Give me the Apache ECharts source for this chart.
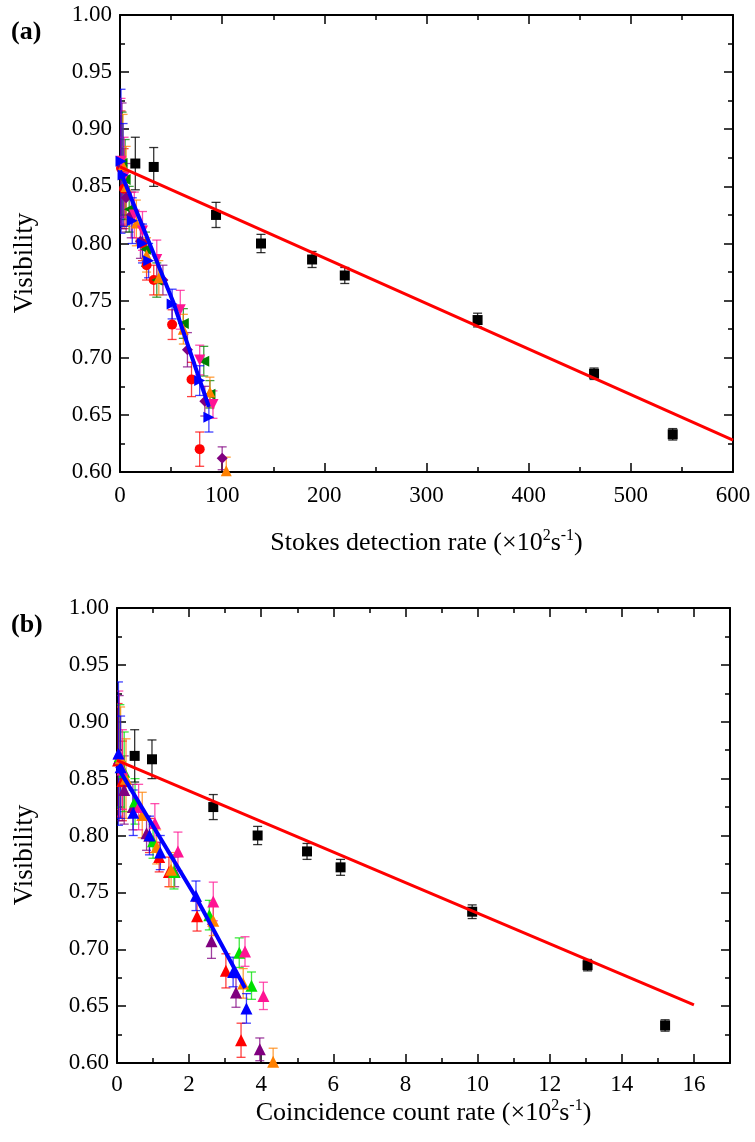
<!DOCTYPE html>
<html>
<head>
<meta charset="utf-8">
<script src="https://cdn.jsdelivr.net/npm/echarts@6/dist/echarts.min.js"></script>
<style>html,body{margin:0;padding:0;background:#fff}#c{width:755px;height:1142px}</style>
</head>
<body>
<div id="c"></div>
<script>
// ---------- DATA ----------
// Black squares (shared visibility), x in panel (a) = Stokes rate, panel (b) = coincidence rate
const blackVis    = [0.870, 0.867, 0.825, 0.800, 0.786, 0.772, 0.733, 0.686, 0.633];
const blackErr    = [0.023, 0.017, 0.011, 0.008, 0.007, 0.007, 0.006, 0.005, 0.005];
const blackStokes = [15, 33, 94, 138, 188, 220, 350, 464, 541];
const blackCoinc  = [0.49, 0.97, 2.67, 3.90, 5.27, 6.20, 9.85, 13.05, 15.20];

const redVis    = [0.866, 0.848, 0.800, 0.781, 0.768, 0.729, 0.681, 0.620];
const redErr    = [0.050, 0.035, 0.015, 0.013, 0.013, 0.013, 0.015, 0.015];
const redStokes = [1, 4, 22, 26, 33, 51, 70, 78];
const redCoinc  = [0.03, 0.15, 0.90, 1.17, 1.44, 2.22, 3.02, 3.44];

const purpleVis    = [0.868, 0.840, 0.825, 0.802, 0.768, 0.707, 0.662, 0.612];
const purpleErr    = [0.055, 0.030, 0.020, 0.015, 0.013, 0.015, 0.013, 0.010];
const purpleStokes = [2, 6, 11, 20, 42, 66, 83, 100];
const purpleCoinc  = [0.06, 0.20, 0.44, 0.82, 1.60, 2.62, 3.30, 3.96];

const blueVis    = [0.872, 0.860, 0.820, 0.800, 0.785, 0.747, 0.680, 0.648];
const blueErr    = [0.063, 0.045, 0.020, 0.017, 0.015, 0.013, 0.013, 0.013];
const blueStokes = [1, 3, 12, 22, 28, 51, 78, 87];
const blueCoinc  = [0.04, 0.10, 0.45, 0.90, 1.20, 2.19, 3.22, 3.59];

const greenVis    = [0.870, 0.856, 0.830, 0.795, 0.768, 0.730, 0.697, 0.668];
const greenErr    = [0.045, 0.035, 0.020, 0.015, 0.015, 0.013, 0.013, 0.012];
const greenStokes = [2, 5, 9, 25, 36, 62, 82, 88];
const greenCoinc  = [0.08, 0.20, 0.50, 1.00, 1.58, 2.56, 3.39, 3.73];

const pinkVis    = [0.872, 0.858, 0.825, 0.811, 0.786, 0.742, 0.698, 0.659];
const pinkErr    = [0.055, 0.035, 0.020, 0.017, 0.017, 0.017, 0.013, 0.012];
const pinkStokes = [1, 4, 14, 22, 36, 59, 78, 91];
const pinkCoinc  = [0.05, 0.15, 0.60, 1.05, 1.69, 2.67, 3.55, 4.06];

const orangeVis    = [0.868, 0.850, 0.818, 0.790, 0.770, 0.725, 0.670, 0.601];
const orangeErr    = [0.045, 0.035, 0.020, 0.015, 0.015, 0.013, 0.013, 0.012];
const orangeStokes = [3, 6, 16, 26, 38, 62, 88, 104];
const orangeCoinc  = [0.10, 0.25, 0.70, 1.10, 1.50, 2.67, 3.50, 4.33];

// Fit lines
const redFitStokesX  = [0, 600];
const redFitStokesY  = [0.867, 0.628];
const blueFitStokesX = [0, 52, 87];
const blueFitStokesY = [0.864, 0.749, 0.657];
const redFitCoincX   = [0, 16];
const redFitCoincY   = [0.866, 0.651];
const blueFitCoincX  = [0, 2.2, 3.55];
const blueFitCoincY  = [0.861, 0.745, 0.666];

// Axis texts
const yTitle = 'Visibility';
const panelLabels = ['(a)', '(b)'];
const xTitleA = ['Stokes detection rate (\u00d710', '2', 's', '-1', ')'];
const xTitleB = ['Coincidence count rate (\u00d710', '2', 's', '-1', ')'];

// ---------- CHART ----------
const FONT = 'Liberation Serif';
const zip = (xs, ys, es) => xs.map((x, i) => es ? [x, ys[i], es[i]] : [x, ys[i]]);

const grids = [
  {left: 120, top: 15, width: 613, height: 457},
  {left: 117, top: 608, width: 613, height: 455}
];

const xAxes = [], yAxes = [];
function axisLineStyle(){ return {show: true, onZero: false, lineStyle: {color: '#000', width: 2}}; }
function xTitleRich(parts){
  return '{n|' + parts[0] + '}{s|' + parts[1] + '}{n|' + parts[2] + '}{s|' + parts[3] + '}{n|' + parts[4] + '}';
}
const richStyle = {
  n: {fontFamily: FONT, fontSize: 26, color: '#000', lineHeight: 30},
  s: {fontFamily: FONT, fontSize: 16, color: '#000', lineHeight: 16, verticalAlign: 'top'}
};

function addX(grid, pos, min, max, interval, tickLen, labels, name, gap, showLine, minor, lm){
  xAxes.push({
    type: 'value', gridIndex: grid, position: pos, min: min, max: max, interval: interval,
    axisLine: showLine ? axisLineStyle() : {show: false},
    axisTick: {show: true, inside: true, length: tickLen, lineStyle: {color: '#000', width: 1.5}},
    minorTick: minor ? {show: true, splitNumber: 2, length: 5, lineStyle: {color: '#000', width: 1.5}} : {show: false},
    splitLine: {show: false},
    axisLabel: labels ? {show: true, fontFamily: FONT, fontSize: 23, color: '#000', margin: lm, showMaxLabel: max % interval === 0} : {show: false},
    name: name || '', nameLocation: 'middle', nameGap: gap || 0,
    nameTextStyle: {rich: richStyle}
  });
  return xAxes.length - 1;
}
function addY(grid, pos, labels){
  yAxes.push({
    type: 'value', gridIndex: grid, position: pos, min: 0.6, max: 1.0, interval: 0.05,
    axisLine: axisLineStyle(),
    axisTick: {show: true, inside: true, length: 9, lineStyle: {color: '#000', width: 1.5}},
    minorTick: {show: true, splitNumber: 2, length: 5, lineStyle: {color: '#000', width: 1.5}},
    splitLine: {show: false},
    axisLabel: labels ? {show: true, fontFamily: FONT, fontSize: 23, color: '#000', margin: 8,
      formatter: v => v.toFixed(2)} : {show: false}
  });
  return yAxes.length - 1;
}

// Panel (a)
const xa = addX(0, 'bottom', 0, 600, 100, 9, true, xTitleRich(xTitleA), 56, true, true, 12);
addX(0, 'top', 0, 600, 100, 9, false, '', 0, true, true, 0);
const ya = addY(0, 'left', true);
addY(0, 'right', false);
// Panel (b)
const xb = addX(1, 'bottom', 0, 17, 2, 9, true, xTitleRich(xTitleB), 35, true, false, 10);
addX(1, 'bottom', 0, 17, 1, 5, false, '', 0, false, false, 0);
addX(1, 'top', 0, 17, 2, 9, false, '', 0, true, false, 0);
addX(1, 'top', 0, 17, 1, 5, false, '', 0, false, false, 0);
const yb = addY(1, 'left', true);
addY(1, 'right', false);

function errSeries(xi, yi, data, color, op){
  return {
    type: 'custom', xAxisIndex: xi, yAxisIndex: yi, clip: true, z: 2,
    encode: {x: 0, y: 1},
    data: data,
    renderItem: function(params, api){
      const x = api.value(0), y = api.value(1), e = api.value(2);
      const t = api.coord([x, y + e]), b = api.coord([x, y - e]);
      const w = 4.5;
      const st = {stroke: color, lineWidth: 1.3, opacity: op};
      return {type: 'group', children: [
        {type: 'line', shape: {x1: t[0], y1: t[1], x2: b[0], y2: b[1]}, style: st},
        {type: 'line', shape: {x1: t[0] - w, y1: t[1], x2: t[0] + w, y2: t[1]}, style: st},
        {type: 'line', shape: {x1: b[0] - w, y1: b[1], x2: b[0] + w, y2: b[1]}, style: st}
      ]};
    }
  };
}
function scat(xi, yi, data, color, symbol, size, rot){
  return {type: 'scatter', xAxisIndex: xi, yAxisIndex: yi, data: data, clip: true, z: 3,
    symbol: symbol, symbolSize: size, symbolRotate: rot || 0,
    itemStyle: {color: color, opacity: 1}, silent: true};
}
function line(xi, yi, data, color, width){
  return {type: 'line', xAxisIndex: xi, yAxisIndex: yi, data: data, symbol: 'none', z: 4,
    lineStyle: {color: color, width: width}, silent: true, clip: true};
}

const colored = [
  {vis: redVis, err: redErr, a: redStokes, b: redCoinc, ca: '#ff0000', cb: '#ff0000', sa: 'circle', ra: 0},
  {vis: purpleVis, err: purpleErr, a: purpleStokes, b: purpleCoinc, ca: '#800080', cb: '#800080', sa: 'diamond', ra: 0},
  {vis: greenVis, err: greenErr, a: greenStokes, b: greenCoinc, ca: '#008000', cb: '#00e000', sa: 'triangle', ra: 90},
  {vis: orangeVis, err: orangeErr, a: orangeStokes, b: orangeCoinc, ca: '#ff8000', cb: '#ff8000', sa: 'triangle', ra: 0},
  {vis: pinkVis, err: pinkErr, a: pinkStokes, b: pinkCoinc, ca: '#ff1493', cb: '#ff1493', sa: 'triangle', ra: 180},
  {vis: blueVis, err: blueErr, a: blueStokes, b: blueCoinc, ca: '#0000ff', cb: '#0000ff', sa: 'triangle', ra: -90}
];

const series = [];
// Panel (a)
colored.forEach(c => series.push(errSeries(xa, ya, zip(c.a, c.vis, c.err), c.ca, 0.75)));
colored.forEach(c => series.push(scat(xa, ya, zip(c.a, c.vis), c.ca, c.sa, c.sa === 'circle' ? 10 : 11, c.ra)));
series.push(errSeries(xa, ya, zip(blackStokes, blackVis, blackErr), '#000', 0.8));
series.push(line(xa, ya, zip(redFitStokesX, redFitStokesY), '#ff0000', 3));
series.push(scat(xa, ya, zip(blackStokes, blackVis), '#000', 'rect', 10, 0));
series.push(line(xa, ya, zip(blueFitStokesX, blueFitStokesY), '#0000ff', 4));
// Panel (b)
colored.forEach(c => series.push(errSeries(xb, yb, zip(c.b, c.vis, c.err), c.cb, 0.75)));
colored.forEach(c => series.push(scat(xb, yb, zip(c.b, c.vis), c.cb, 'triangle', 12, 0)));
series.push(errSeries(xb, yb, zip(blackCoinc, blackVis, blackErr), '#000', 0.8));
series.push(line(xb, yb, zip(redFitCoincX, redFitCoincY), '#ff0000', 3));
series.push(scat(xb, yb, zip(blackCoinc, blackVis), '#000', 'rect', 10, 0));
series.push(line(xb, yb, zip(blueFitCoincX, blueFitCoincY), '#0000ff', 4));

const chart = echarts.init(document.getElementById('c'), null, {renderer: 'canvas'});
chart.setOption({
  backgroundColor: '#fff',
  animation: false,
  grid: grids,
  xAxis: xAxes,
  yAxis: yAxes,
  series: series,
  graphic: [
    {type: 'text', left: 11, top: 19, style: {text: panelLabels[0], font: 'bold 26px "Liberation Serif"', fill: '#000'}},
    {type: 'text', left: 11, top: 612, style: {text: panelLabels[1], font: 'bold 26px "Liberation Serif"', fill: '#000'}},
    {type: 'text', x: 25, y: 263, rotation: Math.PI / 2,
      style: {text: yTitle, font: '27px "Liberation Serif"', fill: '#000', align: 'center', verticalAlign: 'middle'}},
    {type: 'text', x: 25, y: 855, rotation: Math.PI / 2,
      style: {text: yTitle, font: '27px "Liberation Serif"', fill: '#000', align: 'center', verticalAlign: 'middle'}}
  ]
});
</script>
</body>
</html>
